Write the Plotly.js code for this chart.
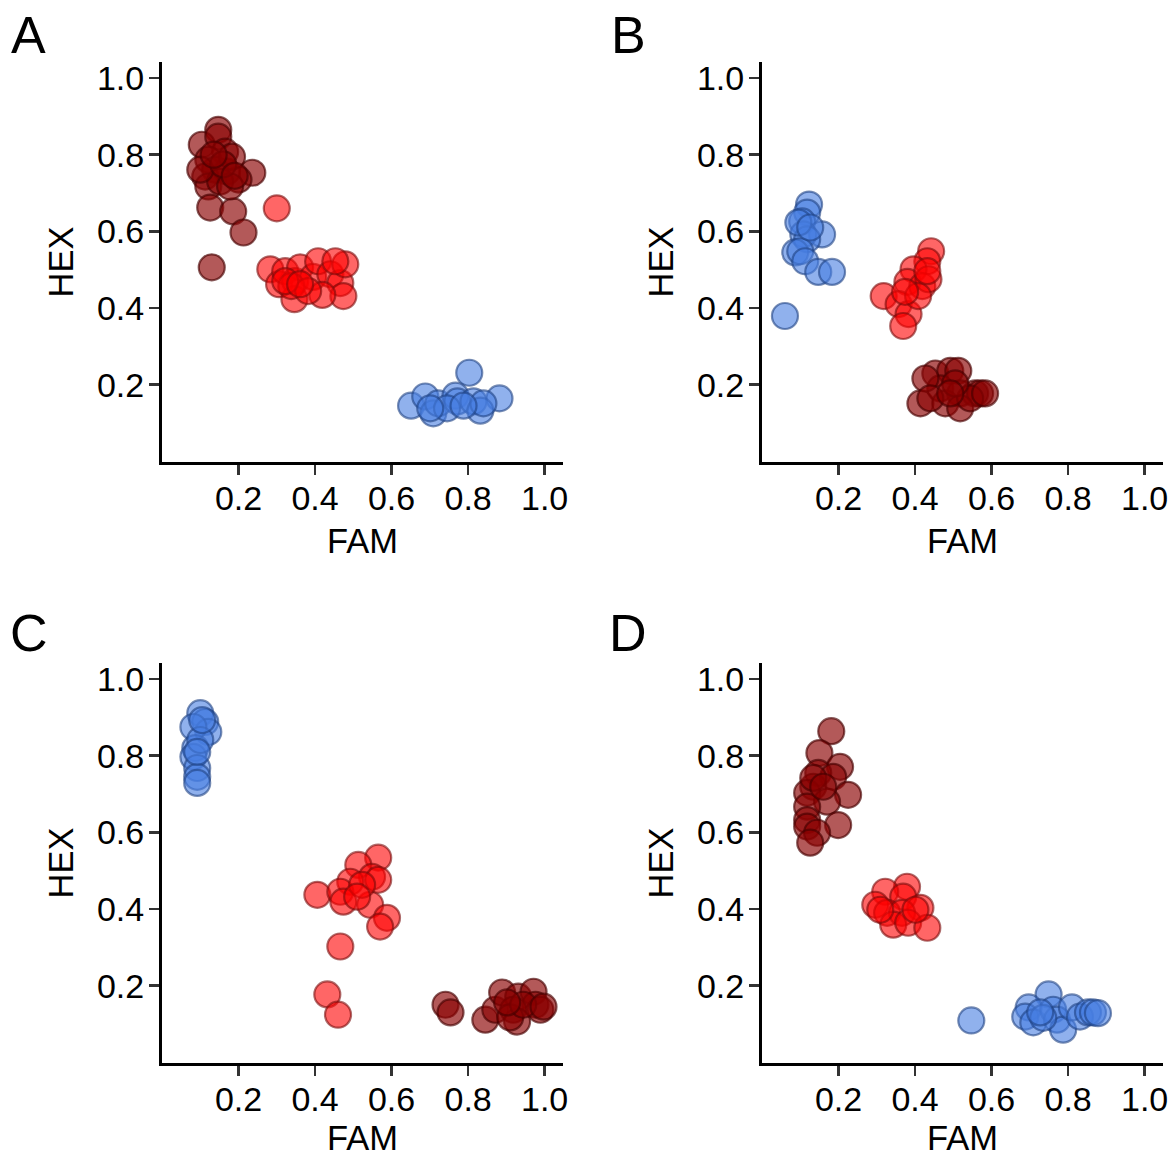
<!DOCTYPE html>
<html>
<head>
<meta charset="utf-8">
<script src="https://cdn.plot.ly/plotly-3.0.1.min.js"></script>
<style>html,body{margin:0;padding:0;background:#fff;}#chart{width:1174px;height:1157px;}</style>
</head>
<body>
<div id="chart"></div>
<script>
// ---------- data (FAM = x, HEX = y) ----------
const panelLabels = ["A", "B", "C", "D"];
const tickVals = [0.2, 0.4, 0.6, 0.8, 1.0];
const tickLabels = ["0.2", "0.4", "0.6", "0.8", "1.0"];

// Panel A
const A_darkred_x = [0.147, 0.104, 0.147, 0.165, 0.121, 0.170, 0.139, 0.236, 0.200, 0.113, 0.121, 0.126, 0.186, 0.213, 0.130, 0.152, 0.183, 0.100, 0.178, 0.160, 0.135, 0.190];
const A_darkred_y = [0.865, 0.826, 0.847, 0.808, 0.787, 0.756, 0.761, 0.753, 0.735, 0.743, 0.717, 0.662, 0.652, 0.597, 0.506, 0.730, 0.795, 0.761, 0.717, 0.775, 0.800, 0.745];
const A_red_x = [0.300, 0.283, 0.306, 0.322, 0.348, 0.361, 0.395, 0.408, 0.440, 0.466, 0.479, 0.474, 0.419, 0.346, 0.338, 0.382, 0.453, 0.322, 0.361];
const A_red_y = [0.660, 0.501, 0.462, 0.496, 0.470, 0.506, 0.481, 0.522, 0.488, 0.465, 0.514, 0.431, 0.434, 0.423, 0.457, 0.444, 0.522, 0.470, 0.462];
const A_blue_x = [0.803, 0.882, 0.651, 0.688, 0.709, 0.722, 0.767, 0.772, 0.814, 0.832, 0.840, 0.745, 0.701, 0.788];
const A_blue_y = [0.231, 0.164, 0.145, 0.169, 0.125, 0.151, 0.171, 0.156, 0.156, 0.132, 0.151, 0.138, 0.138, 0.145];

// Panel B
const B_blue_x = [0.123, 0.118, 0.105, 0.157, 0.108, 0.118, 0.087, 0.100, 0.113, 0.147, 0.183, 0.060, 0.095, 0.126];
const B_blue_y = [0.670, 0.649, 0.626, 0.592, 0.592, 0.579, 0.545, 0.548, 0.522, 0.494, 0.494, 0.379, 0.623, 0.610];
const B_red_x = [0.442, 0.432, 0.396, 0.380, 0.419, 0.435, 0.318, 0.357, 0.383, 0.369, 0.408, 0.374, 0.432];
const B_red_y = [0.548, 0.522, 0.501, 0.468, 0.457, 0.475, 0.431, 0.410, 0.384, 0.353, 0.431, 0.442, 0.496];
const B_darkred_x = [0.414, 0.453, 0.492, 0.513, 0.466, 0.427, 0.518, 0.557, 0.570, 0.479, 0.518, 0.544, 0.505, 0.440, 0.583, 0.492];
const B_darkred_y = [0.151, 0.229, 0.236, 0.236, 0.190, 0.216, 0.177, 0.177, 0.177, 0.151, 0.138, 0.164, 0.203, 0.164, 0.177, 0.177];

// Panel C
const C_blue_x = [0.100, 0.113, 0.121, 0.082, 0.087, 0.082, 0.092, 0.092, 0.092, 0.100, 0.092, 0.105];
const C_blue_y = [0.911, 0.888, 0.862, 0.875, 0.820, 0.797, 0.768, 0.745, 0.729, 0.841, 0.810, 0.893];
const C_red_x = [0.565, 0.513, 0.549, 0.492, 0.406, 0.466, 0.474, 0.544, 0.588, 0.570, 0.565, 0.523, 0.466, 0.432, 0.460, 0.510];
const C_red_y = [0.534, 0.515, 0.484, 0.471, 0.437, 0.445, 0.419, 0.411, 0.377, 0.354, 0.476, 0.463, 0.302, 0.177, 0.124, 0.432];
const C_darkred_x = [0.741, 0.754, 0.845, 0.871, 0.889, 0.931, 0.971, 0.976, 0.989, 0.918, 0.928, 0.910, 0.944, 0.997, 0.902];
const C_darkred_y = [0.150, 0.130, 0.111, 0.137, 0.182, 0.171, 0.184, 0.150, 0.137, 0.137, 0.106, 0.117, 0.150, 0.145, 0.156];

// Panel D
const D_darkred_x = [0.181, 0.150, 0.204, 0.147, 0.186, 0.134, 0.225, 0.118, 0.170, 0.118, 0.118, 0.199, 0.118, 0.144, 0.126, 0.134, 0.160];
const D_darkred_y = [0.864, 0.807, 0.771, 0.755, 0.745, 0.719, 0.698, 0.703, 0.680, 0.667, 0.632, 0.619, 0.615, 0.599, 0.573, 0.742, 0.719];
const D_red_x = [0.379, 0.322, 0.296, 0.369, 0.414, 0.327, 0.366, 0.343, 0.382, 0.432, 0.401, 0.309];
const D_red_y = [0.458, 0.445, 0.411, 0.432, 0.403, 0.390, 0.390, 0.359, 0.364, 0.351, 0.398, 0.398];
const D_blue_x = [0.547, 0.749, 0.697, 0.688, 0.709, 0.761, 0.771, 0.787, 0.810, 0.831, 0.852, 0.865, 0.735, 0.727, 0.878];
const D_blue_y = [0.109, 0.177, 0.143, 0.119, 0.104, 0.137, 0.111, 0.085, 0.143, 0.119, 0.130, 0.130, 0.116, 0.130, 0.128];

// ---------- styles ----------
const styles = {
  darkred: {fill: "rgba(139,0,0,0.65)", line: "rgba(70,0,0,0.65)"},
  red:     {fill: "rgba(255,0,0,0.6)",  line: "rgba(120,10,10,0.6)"},
  blue:    {fill: "rgba(70,125,225,0.6)", line: "rgba(30,65,130,0.6)"}
};

function tr(x, y, col, ax) {
  return {
    type: "scatter", mode: "markers", x: x, y: y,
    xaxis: "x" + (ax === 1 ? "" : ax), yaxis: "y" + (ax === 1 ? "" : ax),
    marker: {size: 26, color: styles[col].fill, line: {color: styles[col].line, width: 2.2}},
    hoverinfo: "x+y", showlegend: false
  };
}

const data = [
  tr(A_darkred_x, A_darkred_y, "darkred", 1), tr(A_red_x, A_red_y, "red", 1), tr(A_blue_x, A_blue_y, "blue", 1),
  tr(B_blue_x, B_blue_y, "blue", 2), tr(B_red_x, B_red_y, "red", 2), tr(B_darkred_x, B_darkred_y, "darkred", 2),
  tr(C_blue_x, C_blue_y, "blue", 3), tr(C_red_x, C_red_y, "red", 3), tr(C_darkred_x, C_darkred_y, "darkred", 3),
  tr(D_darkred_x, D_darkred_y, "darkred", 4), tr(D_red_x, D_red_y, "red", 4), tr(D_blue_x, D_blue_y, "blue", 4)
];

const W = 1174, H = 1157;
const colX = [[162, 563], [762, 1163]];
const rowY = [[62, 462], [663, 1063]];
const font = "'Liberation Sans', Arial, sans-serif";

function xa(col, anchor) {
  return {
    domain: [colX[col][0] / W, colX[col][1] / W], anchor: anchor,
    range: [0, 1.048], tickvals: tickVals, ticktext: tickLabels,
    showline: true, linecolor: "#000", linewidth: 3, mirror: false,
    ticks: "outside", ticklen: 10, tickwidth: 2.5, tickcolor: "#333",
    ticklabelstandoff: -6,
    showgrid: false, zeroline: false,
    tickfont: {family: font, size: 34, color: "#000"},
    title: {text: "FAM", font: {family: font, size: 34.5, color: "#000"}, standoff: 14}
  };
}
function ya(row, anchor) {
  return {
    domain: [1 - rowY[row][1] / H, 1 - rowY[row][0] / H], anchor: anchor,
    range: [-0.002, 1.042], tickvals: tickVals, ticktext: tickLabels,
    showline: true, linecolor: "#000", linewidth: 3, mirror: false,
    ticks: "outside", ticklen: 10, tickwidth: 2.5, tickcolor: "#333",
    ticklabelstandoff: -2,
    showgrid: false, zeroline: false,
    tickfont: {family: font, size: 34, color: "#000"},
    title: {text: "HEX", font: {family: font, size: 34.5, color: "#000"}, standoff: 13}
  };
}

const letterPos = [[29, 35], [628, 35], [29, 633], [628, 633]];
const annotations = panelLabels.map((t, i) => ({
  text: t, xref: "paper", yref: "paper",
  x: letterPos[i][0] / W, y: 1 - letterPos[i][1] / H,
  xanchor: "center", yanchor: "middle", showarrow: false,
  font: {family: font, size: 52, color: "#000"}
}));

const layout = {
  width: W, height: H,
  margin: {l: 0, r: 0, t: 0, b: 0},
  paper_bgcolor: "#fff", plot_bgcolor: "#fff",
  showlegend: false,
  xaxis: xa(0, "y"), yaxis: ya(0, "x"),
  xaxis2: xa(1, "y2"), yaxis2: ya(0, "x2"),
  xaxis3: xa(0, "y3"), yaxis3: ya(1, "x3"),
  xaxis4: xa(1, "y4"), yaxis4: ya(1, "x4"),
  annotations: annotations
};

Plotly.newPlot("chart", data, layout, {displayModeBar: false, staticPlot: true});
</script>
</body>
</html>
